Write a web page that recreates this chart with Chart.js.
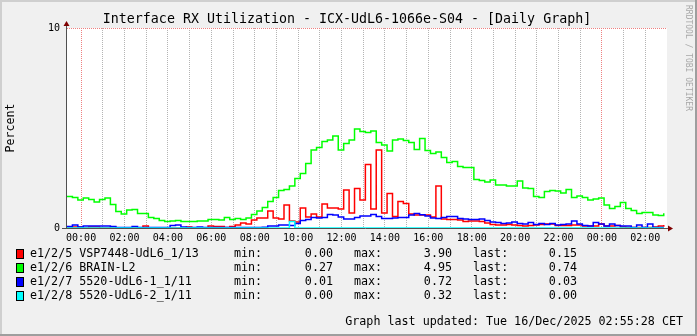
<!DOCTYPE html>
<html>
<head>
<meta charset="utf-8">
<script src="https://cdn.jsdelivr.net/npm/chart.js@4"></script>
<style>
html, body { margin: 0; padding: 0; background: #f0f0f0; }
canvas { display: block; }
</style>
</head>
<body>
<canvas id="rxChart" width="697" height="336"></canvas>
<script>
// samples every 15 minutes, first one at 23:21 the day before (hour -0.65)
const START_HOUR = -0.65;
const STEP_HOURS = 0.25;

const seriesNames = ['e1/2/5 VSP7448-UdL6_1/13', 'e1/2/6 BRAIN-L2', 'e1/2/7 5520-UdL6-1_1/11', 'e1/2/8 5520-UdL6-2_1/11'];
const seriesColors = ['#ff0000', '#00ff00', '#0000ff', '#00ffff'];
const legendMin = ['0.00', '0.27', '0.01', '0.00'];
const legendMax = ['3.90', '4.95', '0.72', '0.32'];
const legendLast = ['0.15', '0.74', '0.03', '0.00'];

const redValues = [
    0, 0.05, 0.05, 0, 0.05, 0.05, 0, 0, 0.05, 0,
    0, 0, 0, 0, 0.10, 0, 0, 0, 0, 0,
    0, 0, 0.05, 0, 0, 0, 0.10, 0.08, 0.08, 0.03,
    0.07, 0.15, 0.25, 0.20, 0.40, 0.50, 0.50, 0.85, 0.50, 0.45,
    1.15, 0.35, 0.30, 1.00, 0.55, 0.70, 0.55, 1.20, 1.00, 1.00,
    0.95, 1.90, 0.75, 1.98, 1.40, 3.17, 0.95, 3.90, 0.75, 1.73,
    0.57, 1.32, 1.23, 0.70, 0.65, 0.65, 0.65, 0.55, 2.10, 0.45,
    0.43, 0.42, 0.40, 0.33, 0.35, 0.35, 0.33, 0.25, 0.18, 0.15,
    0.15, 0.18, 0.15, 0.12, 0.10, 0.12, 0.15, 0.18, 0.20, 0.20,
    0.13, 0.12, 0.12, 0.15, 0.15, 0.10, 0.10, 0.10, 0.20, 0.10,
    0.10, 0.12, 0.05, 0.03, 0.02, 0.02, 0.02, 0.03, 0.05, 0.10,
    0.15
];
const greenValues = [
    1.57, 1.53, 1.40, 1.50, 1.43, 1.30, 1.43, 1.50, 1.17, 0.83,
    0.70, 0.90, 0.93, 0.73, 0.73, 0.53, 0.48, 0.37, 0.32, 0.35,
    0.37, 0.32, 0.32, 0.32, 0.35, 0.35, 0.43, 0.43, 0.40, 0.52,
    0.43, 0.47, 0.43, 0.50, 0.68, 0.85, 1.03, 1.32, 1.53, 1.87,
    1.93, 2.10, 2.48, 2.73, 3.23, 3.90, 4.03, 4.32, 4.40, 4.60,
    3.90, 4.23, 4.40, 4.95, 4.82, 4.77, 4.85, 4.27, 4.15, 3.85,
    4.40, 4.45, 4.37, 4.27, 3.93, 4.48, 3.87, 3.73, 3.80, 3.53,
    3.27, 3.32, 3.07, 3.02, 3.02, 2.43, 2.37, 2.30, 2.40, 2.15,
    2.15, 2.10, 2.10, 2.35, 2.00, 1.98, 1.57, 1.53, 1.82, 1.87,
    1.85, 1.75, 1.93, 1.53, 1.60, 1.53, 1.40, 1.45, 1.50, 1.15,
    0.98, 1.07, 1.28, 0.98, 0.88, 0.73, 0.78, 0.78, 0.65, 0.62,
    0.74
];
const blueValues = [
    0.08, 0.15, 0.05, 0.10, 0.10, 0.10, 0.10, 0.10, 0.08, 0.03,
    0.03, 0.03, 0.08, 0.02, 0.02, 0.03, 0.03, 0.03, 0.03, 0.12,
    0.15, 0.05, 0.03, 0.03, 0.05, 0.03, 0.03, 0.03, 0.03, 0.03,
    0.03, 0.03, 0.03, 0.03, 0.03, 0.03, 0.04, 0.10, 0.10, 0.15,
    0.15, 0.12, 0.23, 0.37, 0.43, 0.52, 0.50, 0.52, 0.67, 0.65,
    0.55, 0.45, 0.45, 0.52, 0.60, 0.60, 0.67, 0.57, 0.48, 0.48,
    0.50, 0.53, 0.53, 0.65, 0.72, 0.66, 0.60, 0.50, 0.48, 0.52,
    0.57, 0.57, 0.48, 0.45, 0.43, 0.43, 0.45, 0.38, 0.30, 0.27,
    0.23, 0.25, 0.30, 0.23, 0.20, 0.28, 0.18, 0.23, 0.18, 0.22,
    0.15, 0.18, 0.20, 0.35, 0.20, 0.12, 0.10, 0.27, 0.20, 0.10,
    0.20, 0.13, 0.10, 0.10, 0.03, 0.15, 0.03, 0.20, 0.03, 0.03,
    0.03
];
const cyanValues = [
    0, 0, 0, 0, 0, 0, 0, 0, 0, 0,
    0, 0, 0, 0, 0, 0, 0, 0, 0, 0,
    0, 0, 0, 0, 0, 0, 0, 0, 0, 0,
    0, 0, 0, 0, 0, 0, 0, 0, 0, 0,
    0, 0.32, 0, 0, 0, 0, 0, 0, 0, 0,
    0, 0, 0, 0, 0, 0, 0, 0, 0, 0,
    0, 0, 0, 0, 0, 0, 0, 0, 0, 0,
    0, 0, 0, 0, 0, 0, 0, 0, 0, 0,
    0, 0, 0, 0, 0, 0, 0, 0, 0, 0,
    0, 0, 0, 0, 0, 0, 0, 0, 0, 0,
    0, 0, 0, 0, 0, 0, 0, 0, 0, 0,
    0
];

// hour ticks (one grid line per hour, label every 2 hours)
const hourTicks = [0, 1, 2, 3, 4, 5, 6, 7, 8, 9, 10, 11, 12, 13, 14, 15, 16, 17, 18, 19, 20, 21, 22, 23, 24, 25, 26];
const yTicks = [0, 10];

const MONO = '"DejaVu Sans Mono", monospace';

function toPoints(values) {
    let pts = [];
    for (let i = 0; i < values.length; i++) {
        pts.push({ x: START_HOUR + i * STEP_HOURS, y: values[i] });
    }
    return pts;
}

const allValues = [redValues, greenValues, blueValues, cyanValues];
let datasets = [];
for (let i = 0; i < allValues.length; i++) {
    datasets.push({
        label: seriesNames[i],
        data: toPoints(allValues[i]),
        borderColor: seriesColors[i],
        borderWidth: 1.5,
        pointRadius: 0,
        stepped: 'before',
        fill: false,
        order: 4 - i
    });
}

const rrdDecor = {
    id: 'rrdDecor',
    beforeDraw(chart) {
        const ctx = chart.ctx;
        const a = chart.chartArea;
        const w = chart.width;
        const h = chart.height;
        ctx.save();
        ctx.fillStyle = '#f0f0f0';
        ctx.fillRect(0, 0, w, h);
        ctx.fillStyle = '#cfcfcf';
        ctx.fillRect(0, 0, w, 2);
        ctx.fillRect(0, 0, 2, h);
        ctx.fillStyle = '#9e9e9e';
        ctx.fillRect(0, h - 2, w, 2);
        ctx.fillRect(w - 2, 0, 2, h);
        ctx.fillStyle = '#ffffff';
        ctx.fillRect(a.left, a.top, a.right - a.left, a.bottom - a.top);
        ctx.restore();
    },
    afterDraw(chart) {
        const ctx = chart.ctx;
        const a = chart.chartArea;
        ctx.save();

        // axes with arrows
        ctx.strokeStyle = '#505050';
        ctx.lineWidth = 1;
        ctx.beginPath();
        ctx.moveTo(a.left - 0.5, a.bottom + 0.5);
        ctx.lineTo(a.left - 0.5, a.top - 3);
        ctx.moveTo(a.left - 5, a.bottom + 0.5);
        ctx.lineTo(a.right + 2, a.bottom + 0.5);
        ctx.stroke();
        ctx.fillStyle = '#7f0000';
        ctx.beginPath();
        ctx.moveTo(a.left - 3.5, a.top - 2);
        ctx.lineTo(a.left + 2.5, a.top - 2);
        ctx.lineTo(a.left - 0.5, a.top - 7);
        ctx.closePath();
        ctx.fill();
        ctx.beginPath();
        ctx.moveTo(a.right + 1, a.bottom - 2.5);
        ctx.lineTo(a.right + 1, a.bottom + 3.5);
        ctx.lineTo(a.right + 6, a.bottom + 0.5);
        ctx.closePath();
        ctx.fill();

        ctx.fillStyle = '#000000';
        ctx.textBaseline = 'middle';

        // title
        ctx.font = '13.3px ' + MONO;
        ctx.textAlign = 'center';
        ctx.fillText('Interface RX Utilization - ICX-UdL6-1066e-S04 - [Daily Graph]', 347, 19.5);

        // vertical label
        ctx.save();
        ctx.translate(11, (a.top + a.bottom) / 2);
        ctx.rotate(-Math.PI / 2);
        ctx.font = '11.6px ' + MONO;
        ctx.fillText('Percent', 0, 0);
        ctx.restore();

        // watermark
        ctx.save();
        ctx.translate(688.5, 5);
        ctx.rotate(Math.PI / 2);
        ctx.font = '8px ' + MONO;
        ctx.textAlign = 'left';
        ctx.fillStyle = '#a8a8a8';
        ctx.fillText('RRDTOOL / TOBI OETIKER', 0, 0);
        ctx.restore();

        // legend rows
        ctx.font = '11.7px ' + MONO;
        for (let i = 0; i < seriesNames.length; i++) {
            const y = 254 + i * 14;
            ctx.fillStyle = seriesColors[i];
            ctx.fillRect(16, y - 5, 8, 10);
            ctx.strokeStyle = '#000000';
            ctx.strokeRect(16.5, y - 4.5, 7, 9);
            ctx.fillStyle = '#000000';
            ctx.textAlign = 'left';
            ctx.fillText(seriesNames[i], 30, y);
            ctx.fillText('min:', 234, y);
            ctx.fillText('max:', 354, y);
            ctx.fillText('last:', 473, y);
            ctx.textAlign = 'right';
            ctx.fillText(legendMin[i], 333, y);
            ctx.fillText(legendMax[i], 452, y);
            ctx.fillText(legendLast[i], 577, y);
        }

        ctx.textAlign = 'right';
        ctx.fillText('Graph last updated: Tue 16/Dec/2025 02:55:28 CET', 683, 322);
        ctx.restore();
    }
};

const config = {
    type: 'line',
    data: { datasets: datasets },
    options: {
        responsive: false,
        devicePixelRatio: 1,
        animation: false,
        layout: { padding: { left: 0, top: 28, right: 30, bottom: 0 } },
        plugins: {
            legend: { display: false },
            title: { display: false },
            tooltip: { enabled: false }
        },
        scales: {
            x: {
                type: 'linear',
                min: START_HOUR,
                max: 27.0,
                afterBuildTicks: function (scale) {
                    scale.ticks = hourTicks.map(function (v) { return { value: v }; });
                },
                afterFit: function (scale) {
                    scale.height = 108;
                },
                grid: {
                    drawTicks: false,
                    lineWidth: 1,
                    color: function (c) {
                        if (c.tick && c.tick.value % 24 === 0) {
                            return '#ee8080';
                        }
                        return '#b4b4b4';
                    }
                },
                border: { display: false, dash: [1, 1] },
                ticks: {
                    autoSkip: false,
                    maxRotation: 0,
                    minRotation: 0,
                    padding: 4,
                    color: '#000000',
                    font: { family: MONO, size: 10 },
                    callback: function (value) {
                        if (value % 2 !== 0) {
                            return '';
                        }
                        const hh = ((value % 24) + 24) % 24;
                        return (hh < 10 ? '0' : '') + hh + ':00';
                    }
                }
            },
            y: {
                min: 0,
                max: 10,
                afterBuildTicks: function (scale) {
                    scale.ticks = yTicks.map(function (v) { return { value: v }; });
                },
                afterFit: function (scale) {
                    scale.width = 67;
                },
                grid: {
                    drawTicks: false,
                    color: function (c) {
                        return c.tick && c.tick.value === 10 ? '#ee8080' : 'rgba(0,0,0,0)';
                    }
                },
                border: { display: false, dash: [1, 1] },
                ticks: {
                    padding: 7,
                    color: '#000000',
                    font: { family: MONO, size: 10 }
                }
            }
        }
    },
    plugins: [rrdDecor]
};

const myChart = new Chart(document.getElementById('rxChart'), config);
</script>
</body>
</html>
